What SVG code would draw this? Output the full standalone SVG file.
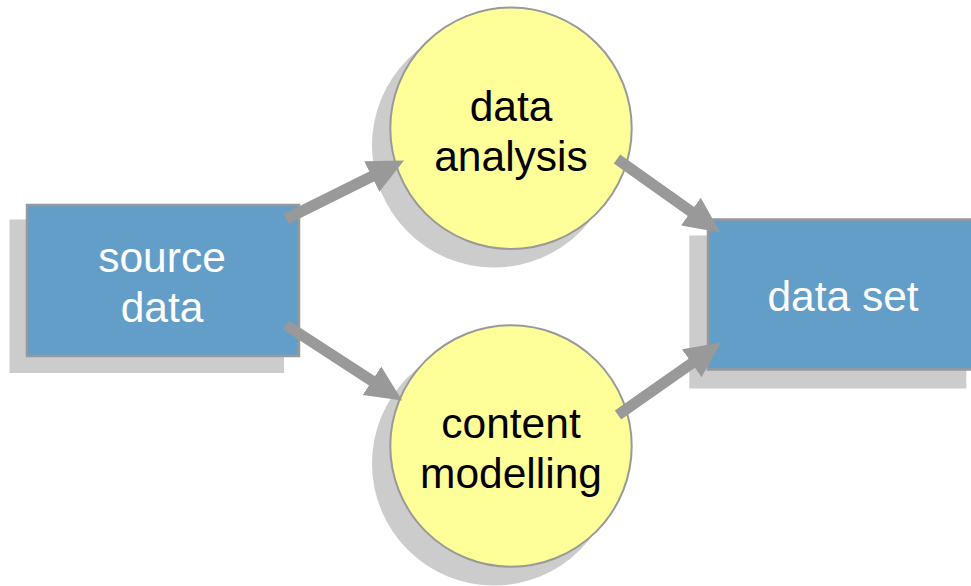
<svg xmlns="http://www.w3.org/2000/svg" width="971" height="586" viewBox="0 0 971 586">
  <defs>
    <style>
      .shadow { fill: #cccccc; stroke: none; }
      .box { fill: #639ec9; stroke: #999999; stroke-width: 2.5; }
      .bubble { fill: #ffff99; stroke: #999999; stroke-width: 2; }
      .label { font-family: "Liberation Sans", Arial, sans-serif; font-size: 42.5px; text-anchor: middle; }
      .light { fill: #ffffff; }
      .dark { fill: #000000; }
      .flow { stroke: #999999; stroke-width: 11; fill: none; marker-end: url(#head); }
    </style>
    <marker id="head" markerUnits="userSpaceOnUse" markerWidth="40" markerHeight="40" viewBox="0 -20 40 40" refX="1" refY="0" orient="auto">
      <path d="M0,-17 L36,0 L0,17 Z" fill="#999999"/>
    </marker>
  </defs>
  <rect width="971" height="586" fill="#ffffff"/>

  <g id="source-data">
    <rect class="shadow" x="9.5" y="219.5" width="274.5" height="153.5"/>
    <rect class="box" x="27" y="205" width="272" height="151"/>
    <text class="label light" x="162" y="272">source</text>
    <text class="label light" x="162" y="322">data</text>
  </g>

  <g id="data-analysis">
    <circle class="shadow" cx="494" cy="145.5" r="122"/>
    <circle class="bubble" cx="511" cy="128.3" r="120.7"/>
    <text class="label dark" x="511" y="121">data</text>
    <text class="label dark" x="511" y="171">analysis</text>
  </g>

  <g id="content-modelling">
    <circle class="shadow" cx="494" cy="463.5" r="122"/>
    <circle class="bubble" cx="511" cy="446" r="120.7"/>
    <text class="label dark" x="511" y="438">content</text>
    <text class="label dark" x="511" y="488">modelling</text>
  </g>

  <g id="data-set">
    <rect class="shadow" x="689.3" y="235.5" width="277" height="153"/>
    <rect class="box" x="708" y="219.5" width="276" height="150"/>
    <text class="label light" x="843" y="311">data set</text>
  </g>

  <g id="connectors">
    <line class="flow" x1="286" y1="219" x2="372.7" y2="176"/>
    <line class="flow" x1="286" y1="325" x2="372.8" y2="381.4"/>
    <line class="flow" x1="617" y1="159" x2="691.7" y2="212.1"/>
    <line class="flow" x1="618" y1="415" x2="692.5" y2="362.7"/>
  </g>
</svg>
